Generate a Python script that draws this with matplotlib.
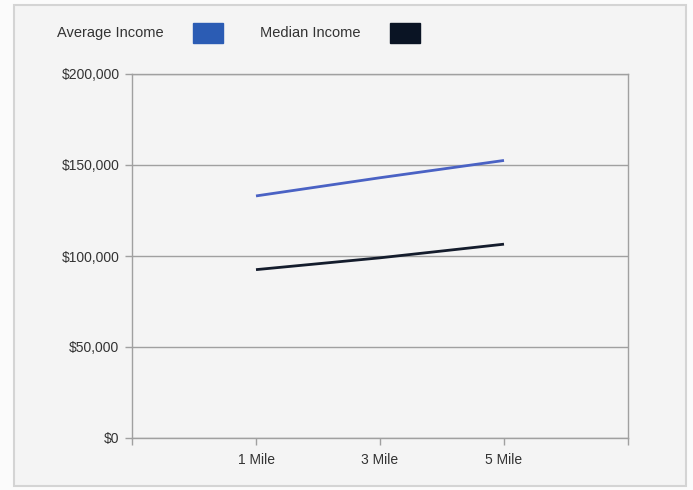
import numpy as np
from matplotlib import pyplot as plt
from matplotlib.patches import Rectangle
from matplotlib.ticker import FuncFormatter

plt.rcParams["font.family"] = ["Liberation Sans", "DejaVu Sans"]

categories = ["1 Mile", "3 Mile", "5 Mile"]
average_income = [133000, 143000, 152500]
median_income = [92500, 99000, 106500]
series_names = ["Average Income", "Median Income"]

bg = "#f4f4f4"
grid_c = "#a0a0a0"
avg_c = "#4a62c4"
med_c = "#141c2c"
swatch_c = ["#2b5cb4", "#0a1424"]

W, H = 693, 490
fig = plt.figure(figsize=(W/100, H/100), dpi=100)
fig.patch.set_facecolor("#fbfbfb")
# outer panel with border, kept behind the axes
fig.patches.append(Rectangle((14/W, 4/H), 672/W, 481/H, transform=fig.transFigure,
                             facecolor=bg, edgecolor="#d4d4d4", linewidth=1.5, zorder=-10))

ax = fig.add_axes([132/W, 1-438/H, 496/W, 364/H])
ax.set_facecolor(bg)

x = np.arange(len(categories))
ax.plot(x, average_income, color=avg_c, linewidth=2, solid_capstyle="butt")
ax.plot(x, median_income, color=med_c, linewidth=2, solid_capstyle="butt")

ax.set_xlim(-1, len(categories))
ax.set_ylim(0, 200000)
ax.set_xticks(np.arange(-1, len(categories) + 1))
ax.set_xticklabels([""] + categories + [""])
ax.set_yticks([0, 50000, 100000, 150000, 200000])
ax.yaxis.set_major_formatter(FuncFormatter(lambda v, p: "${:,.0f}".format(v)))
ax.grid(axis="y", color=grid_c, linewidth=1)
ax.set_axisbelow(True)

for s in ax.spines.values():
    s.set_color(grid_c)
    s.set_linewidth(1)
ax.tick_params(colors=grid_c, length=5, width=1, labelsize=10, labelcolor="#333333", pad=4)
ax.tick_params(axis="x", pad=6)

# legend: label then colour swatch
text_x = [57, 260]
swatch_x = [193, 390]
for name, tx, sx, c in zip(series_names, text_x, swatch_x, swatch_c):
    fig.text(tx/W, 1-33/H, name, fontsize=10.5, color="#333333", va="center", ha="left")
    fig.patches.append(Rectangle((sx/W, 1-43/H), 30/W, 20/H, transform=fig.transFigure,
                                 facecolor=c, edgecolor=c))

fig.savefig("out.png", dpi=100, facecolor=fig.get_facecolor())
